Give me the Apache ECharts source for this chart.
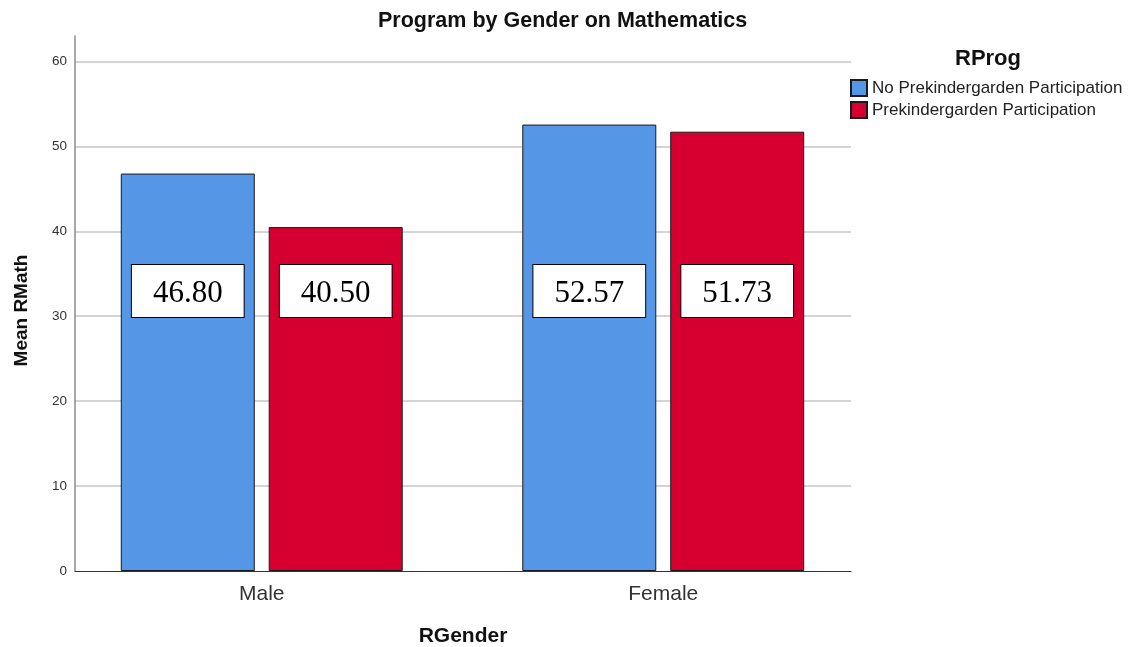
<!DOCTYPE html>
<html>
<head>
<meta charset="utf-8">
<title>Program by Gender on Mathematics</title>
<script src="https://cdn.jsdelivr.net/npm/echarts@6/dist/echarts.min.js"></script>
<style>
  html, body { margin: 0; padding: 0; background: #fff; }
  #chart { width: 1132px; height: 647px; }
</style>
</head>
<body>
<div id="chart"></div>
<script>
// Mean RMath by gender, split by pre-kindergarten participation
const genders = ['Male', 'Female'];
const seriesNames = ['No Prekindergarden Participation', 'Prekindergarden Participation'];
const noPrekMeans = [46.80, 52.57];
const prekMeans = [40.50, 51.73];
const yTicks = [0, 10, 20, 30, 40, 50, 60];

const sans = 'Liberation Sans, Arial, sans-serif';
const serif = 'Liberation Serif, Times New Roman, serif';
const yMax = 63;

const chart = echarts.init(document.getElementById('chart'), null, { renderer: 'canvas' });

function barSeries(name, values, color) {
  return {
    name: name,
    type: 'bar',
    xAxisIndex: 1,
    yAxisIndex: 1,
    data: values,
    barWidth: 134,
    barGap: '10.4%',
    itemStyle: { color: color, borderColor: '#1a1a1a', borderWidth: 1 },
    emphasis: { disabled: true },
    label: {
      show: true,
      position: 'insideBottom',
      distance: 254,
      formatter: p => p.value.toFixed(2),
      fontFamily: serif,
      fontSize: 31,
      lineHeight: 32,
      color: '#000',
      backgroundColor: '#fff',
      borderColor: '#000',
      borderWidth: 1,
      padding: [13, 21, 7, 21]
    }
  };
}

chart.setOption({
  animation: false,
  backgroundColor: '#fff',
  title: [
    {
      text: 'Program by Gender on Mathematics',
      left: 373,
      top: 5,
      textStyle: { fontFamily: sans, fontSize: 21.5, fontWeight: 'bold', color: '#111' }
    },
    {
      text: 'RProg',
      left: 950,
      top: 43,
      textStyle: { fontFamily: sans, fontSize: 22, fontWeight: 'bold', color: '#111' }
    }
  ],
  legend: {
    orient: 'vertical',
    left: 850,
    top: 79,
    padding: 0,
    itemWidth: 16,
    itemHeight: 16,
    itemGap: 4,
    icon: 'rect',
    data: seriesNames,
    textStyle: { fontFamily: sans, fontSize: 17, color: '#222' },
    selectedMode: false
  },
  grid: [
    // frame: axis lines, grid lines, axis names
    { left: 75, right: 281, top: 36, bottom: 76, outerBoundsMode: 'none' },
    // bars
    { left: 61, right: 268, top: 36, bottom: 76, outerBoundsMode: 'none' }
  ],
  xAxis: [
    {
      type: 'category',
      gridIndex: 0,
      data: genders,
      name: 'RGender',
      nameLocation: 'middle',
      nameGap: 55,
      nameTextStyle: { fontFamily: sans, fontSize: 21, fontWeight: 'bold', color: '#111' },
      axisLine: { show: true, lineStyle: { color: '#333', width: 1 } },
      axisTick: { show: false },
      axisLabel: { show: false },
      splitLine: { show: false }
    },
    {
      type: 'category',
      gridIndex: 1,
      data: genders,
      axisLine: { show: false },
      axisTick: { show: false },
      axisLabel: { fontFamily: sans, fontSize: 21, color: '#333', margin: 13 },
      splitLine: { show: false }
    }
  ],
  yAxis: [
    {
      type: 'value',
      gridIndex: 0,
      min: yTicks[0],
      max: yMax,
      interval: yTicks[1] - yTicks[0],
      name: 'Mean RMath',
      nameLocation: 'middle',
      nameGap: 44,
      nameTextStyle: { fontFamily: sans, fontSize: 19, fontWeight: 'bold', color: '#111', padding: [0, 0, 0, -14] },
      axisLine: { show: true, lineStyle: { color: '#8c8c8c', width: 1.5 } },
      axisTick: { show: false },
      axisLabel: {
        fontFamily: sans, fontSize: 13.5, color: '#333', margin: 8,
        showMaxLabel: false,
        formatter: v => (yTicks.indexOf(v) >= 0 ? String(v) : '')
      },
      splitLine: {
        show: true,
        showMinLine: false,
        showMaxLine: false,
        lineStyle: { color: '#d4d4d4', width: 2 }
      }
    },
    {
      type: 'value',
      gridIndex: 1,
      min: yTicks[0],
      max: yMax,
      interval: yTicks[1] - yTicks[0],
      show: false,
      splitLine: { show: false }
    }
  ],
  series: [
    barSeries(seriesNames[0], noPrekMeans, '#5596e6'),
    barSeries(seriesNames[1], prekMeans, '#d5002f')
  ]
});
</script>
</body>
</html>
